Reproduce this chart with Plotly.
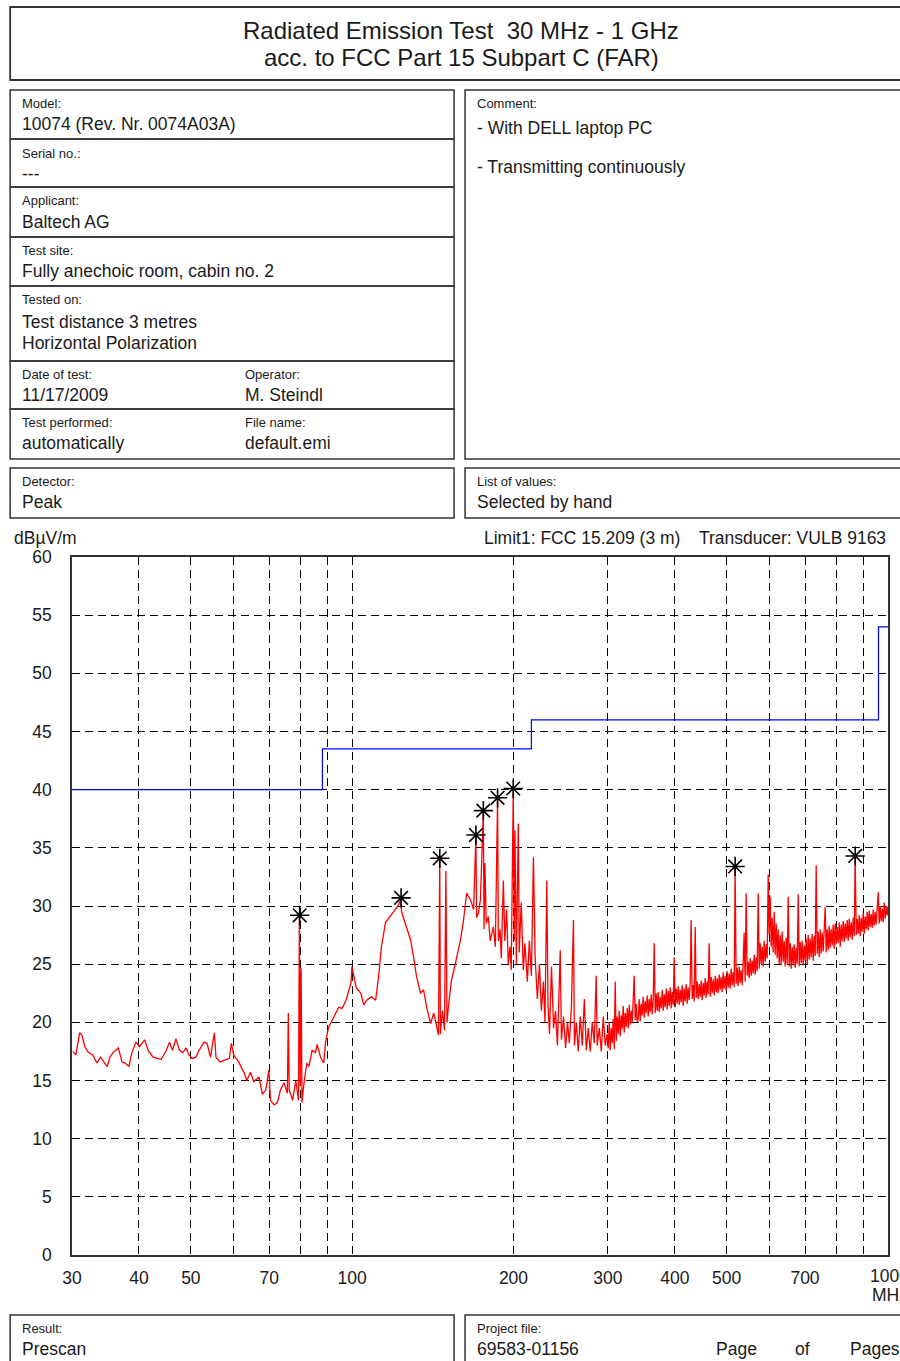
"""Radiated emission prescan sheet (30 MHz - 1 GHz) rebuilt with Plotly."""

import plotly.graph_objects as go

_INK = "#1a1a1a"
_FRAME = "#333333"
_RED = "#ff0000"
_BLUE = "#0000ff"
_FONT = "Liberation Sans, Arial, sans-serif"

FREQ_MHZ = [
    30.1, 30.5, 31.0, 31.3, 31.7, 32.2, 32.8, 33.4, 33.9, 34.4, 34.9, 35.3, 35.8,
    36.6, 37.2, 37.7, 38.3, 38.8, 39.5, 40.1, 41.0, 41.6, 42.5, 43.4, 44.0, 45.0,
    45.6, 46.2, 46.9, 47.6, 48.3, 49.0, 49.6, 50.3, 51.1, 51.8, 52.9, 53.6, 54.4,
    55.3, 55.7, 56.7, 58.0, 59.0, 59.5, 60.1, 61.4, 62.8, 63.6, 64.6, 65.5, 67.0,
    68.0, 69.0, 69.9, 70.4, 71.5, 72.5, 73.5, 74.6, 75.7, 76.0, 76.3, 77.4, 78.5,
    79.4, 79.7, 80.0, 80.3, 80.6, 81.4, 82.3, 83.0, 84.2, 85.4, 86.0, 87.3, 88.5,
    89.2, 90.4, 91.8, 93.1, 94.4, 95.8, 97.4, 99.5, 99.9, 101.7, 103.8, 105.1,
    106.4, 108.7, 110.6, 112.0, 113.4, 115.4, 117.9, 119.5, 122.0, 123.4, 123.6,
    125.7, 128.5, 130.2, 131.9, 134.2, 135.9, 137.7, 140.1, 142.0, 143.8, 144.9,
    145.7, 146.1, 147.4, 148.7, 149.6, 150.3, 151.2, 153.2, 155.9, 159.3, 161.4,
    163.5, 166.4, 168.5, 170.2, 170.7, 172.0, 173.5, 175.7, 176.2, 176.9, 177.9,
    179.5, 181.0, 183.4, 185.0, 186.8, 187.4, 188.8, 189.8, 191.5, 192.7, 194.2,
    195.6, 197.0, 198.1, 199.8, 200.7, 201.3, 202.5, 204.2, 205.0, 206.8, 208.6,
    210.1, 212.3, 214.1, 216.0, 217.9, 219.5, 221.6, 223.6, 225.5, 227.5, 229.0,
    230.8, 232.0, 233.5, 235.5, 237.6, 239.6, 241.6, 244.5, 245.8, 248.0, 250.2,
    252.3, 254.3, 256.6, 258.8, 259.9, 262.0, 264.2, 266.5, 268.8, 271.2, 273.5,
    275.8, 278.2, 280.6, 283.0, 285.4, 286.6, 289.2, 291.7, 294.2, 296.7, 299.2,
    300.5, 301.8, 303.1, 304.4, 305.7, 307.0, 308.4, 309.7, 311.0, 312.4,
    313.7, 315.1, 316.4, 317.8, 319.1, 320.5, 321.9, 323.3, 324.7, 326.1,
    327.5, 328.9, 330.3, 331.8, 333.2, 334.6, 336.0, 337.5, 338.9, 340.4,
    341.8, 343.3, 344.8, 346.2, 347.7, 349.2, 350.7, 352.2, 353.8, 355.3,
    356.9, 358.4, 360.0, 361.5, 363.1, 364.6, 366.2, 367.8, 369.4, 371.0,
    372.5, 374.1, 375.8, 377.4, 379.0, 380.6, 382.3, 383.9, 385.6, 387.2,
    388.9, 390.6, 392.2, 393.9, 395.6, 397.3, 399.0, 400.7, 402.5, 404.2,
    405.9, 407.7, 409.4, 411.2, 412.9, 414.7, 416.5, 418.3, 420.1, 421.9,
    423.7, 425.5, 427.4, 429.2, 431.1, 432.9, 434.8, 436.7, 438.5, 440.4,
    442.4, 444.3, 446.2, 448.1, 450.0, 452.0, 453.9, 455.9, 457.8, 459.8,
    461.8, 463.8, 465.8, 467.8, 469.8, 471.8, 473.9, 475.9, 478.0, 480.0,
    482.0, 484.1, 486.2, 488.3, 490.4, 492.5, 494.6, 496.7, 498.9, 501.0,
    503.2, 505.4, 507.5, 509.7, 511.9, 514.1, 516.3, 518.5, 520.7, 523.0,
    525.2, 527.5, 529.8, 532.0, 534.3, 536.6, 538.9, 541.3, 543.6, 546.0,
    548.4, 550.7, 553.1, 555.5, 557.9, 560.3, 562.7, 565.1, 567.5, 570.0,
    572.5, 574.9, 577.4, 579.9, 582.4, 584.9, 587.4, 590.0, 592.5, 595.0,
    597.6, 600.2, 602.7, 605.3, 607.9, 610.5, 613.2, 615.8, 618.5, 621.1,
    623.8, 626.5, 629.2, 631.9, 634.6, 637.3, 640.1, 642.8, 645.6, 648.4,
    651.3, 654.1, 656.9, 659.7, 662.6, 665.4, 668.3, 671.2, 674.1, 677.0,
    679.9, 682.8, 685.8, 688.7, 691.7, 694.6, 697.6, 700.6, 703.6, 706.7,
    709.7, 712.8, 715.8, 718.9, 722.0, 725.1, 728.2, 731.4, 734.5, 737.7,
    740.8, 744.0, 747.2, 750.4, 753.6, 756.9, 760.1, 763.4, 766.7, 770.0,
    773.3, 776.6, 779.9, 783.3, 786.7, 790.0, 793.4, 796.8, 800.3, 803.7,
    807.4, 810.8, 814.3, 817.8, 821.3, 824.9, 828.4, 832.0, 835.6, 839.2,
    842.8, 846.4, 850.1, 853.7, 857.4, 861.1, 864.8, 868.5, 872.3, 876.0,
    879.8, 883.6, 887.4, 891.2, 895.0, 898.9, 902.7, 906.6, 910.5, 914.4,
    918.4, 922.3, 926.3, 930.3, 934.3, 938.3, 942.3, 946.4, 950.5, 954.6,
    958.8, 962.9, 967.1, 971.2, 975.4, 979.6, 983.8, 988.0, 992.3, 996.6, 1000.0,
]
LEVEL_DBUV = [
    17.5, 17.2, 19.1, 18.9, 17.9, 17.4, 17.2, 16.5, 17.0, 16.6, 16.2, 17.0, 17.4,
    17.8, 16.6, 16.5, 16.2, 17.4, 18.3, 17.9, 18.5, 17.6, 17.0, 16.9, 16.8, 17.6,
    18.3, 17.6, 18.6, 17.6, 17.4, 17.8, 17.2, 16.9, 17.0, 17.6, 18.3, 18.2, 17.0,
    19.1, 17.0, 16.6, 16.8, 16.9, 18.2, 17.2, 16.6, 15.7, 15.0, 15.7, 14.9, 15.3,
    13.8, 14.2, 15.9, 13.3, 12.9, 13.1, 14.2, 14.8, 13.9, 20.8, 14.2, 13.3, 15.0,
    13.3, 29.0, 14.5, 24.7, 13.1, 15.0, 16.5, 16.2, 17.6, 17.4, 18.1, 17.0, 16.5,
    18.3, 19.6, 20.2, 20.8, 21.3, 21.2, 21.9, 23.4, 24.8, 23.0, 22.5, 21.5,
    21.9, 22.2, 21.9, 23.9, 26.5, 28.6, 29.1, 29.5, 30.1, 30.6, 29.5,
    28.5, 27.1, 25.6, 23.9, 22.5, 22.8, 21.3, 19.9, 20.8, 19.6, 18.9,
    34.0, 19.0, 21.0, 19.3, 33.0, 20.0, 21.3, 23.6, 25.1, 27.1, 28.8,
    31.1, 30.5, 29.7, 36.0, 29.0, 29.4, 30.5, 38.1, 28.0, 33.7, 28.5,
    29.1, 27.0, 28.2, 26.5, 39.2, 27.0, 28.0, 25.5, 32.2, 27.0, 29.7,
    25.0, 26.5, 24.5, 40.0, 27.0, 36.5, 25.0, 37.1, 26.0, 30.3, 24.5,
    26.8, 23.5, 27.0, 24.0, 34.2, 25.6, 22.0, 25.0, 21.0, 23.5, 20.0,
    32.2, 21.5, 19.0, 24.8, 19.5, 21.0, 18.0, 26.2, 18.5, 20.5, 17.8,
    20.0, 18.2, 21.5, 28.8, 18.0, 20.0, 17.5, 20.5, 18.0, 22.0, 17.6,
    19.5, 17.5, 20.0, 18.2, 24.0, 18.0, 19.5, 17.5, 20.5, 18.0, 19.0,
    17.8, 20.0, 17.6, 19.5, 18.2, 20.3, 17.7, 23.5, 18.4, 20.5,
    19.0, 21.0, 18.8, 20.6, 19.4, 21.4, 19.1, 20.8, 19.6, 21.2,
    19.5, 21.5, 19.8, 21.0, 20.0, 21.8, 24.0, 20.2, 21.6, 20.0,
    20.3, 22.0, 20.1, 21.6, 20.6, 22.2, 20.4, 21.8, 20.8, 22.3,
    20.5, 22.0, 20.9, 22.4, 20.7, 21.9, 26.8, 20.8, 22.5, 21.0,
    22.6, 20.9, 22.2, 21.2, 22.8, 21.0, 22.4, 21.3, 22.9, 21.1,
    22.7, 21.4, 23.0, 21.2, 22.6, 21.5, 25.6, 21.3, 22.9, 21.6,
    23.1, 21.5, 22.8, 21.7, 23.2, 21.4, 22.9, 21.8, 23.3, 21.6,
    23.0, 21.9, 23.4, 28.8, 22.0, 23.2, 21.8, 28.2, 22.1, 23.5,
    22.0, 23.3, 22.2, 23.6, 21.9, 23.4, 22.3, 23.8, 22.1, 23.5,
    22.4, 26.8, 22.2, 23.9, 22.5, 23.7, 22.3, 24.0, 22.6, 23.8,
    22.5, 24.1, 22.8, 23.9, 22.6, 24.3, 22.9, 24.0, 22.7, 24.4,
    23.0, 24.2, 22.9, 24.6, 23.2, 24.3, 23.0, 33.3, 23.3, 24.7,
    23.1, 24.8, 23.4, 24.5, 23.2, 25.0, 27.7, 23.5, 31.1, 24.0,
    25.2, 23.8, 25.5, 24.0, 25.3, 24.2, 25.8, 24.1, 25.6, 24.4,
    31.1, 24.6, 26.8, 25.0, 26.5, 24.8, 27.0, 25.2, 26.7, 25.5,
    32.7, 27.5, 30.8, 26.5, 29.0, 26.0, 29.5, 25.8, 28.5, 25.5,
    28.0, 25.0, 27.5, 24.9, 27.8, 25.2, 27.0, 24.8, 27.3, 25.0,
    30.8, 24.8, 26.8, 24.6, 26.5, 24.9, 26.7, 24.7, 26.4, 25.0,
    31.0, 24.8, 26.9, 25.1, 27.0, 24.9, 26.6, 25.3, 27.2, 25.0,
    27.5, 25.4, 27.2, 25.6, 27.6, 25.3, 27.4, 25.7, 33.5, 25.9,
    27.8, 25.6, 28.0, 25.9, 27.7, 26.1, 28.1, 29.9, 26.0, 28.0,
    26.2, 28.3, 26.4, 28.0, 26.6, 28.4, 26.3, 28.5, 26.7, 28.2,
    26.8, 28.6, 26.5, 28.4, 27.0, 28.7, 26.9, 28.5, 27.2, 28.8,
    27.0, 28.9, 27.3, 28.6, 27.1, 29.0, 27.4, 34.2, 27.5, 28.9,
    27.6, 29.2, 27.4, 29.0, 27.8, 29.4, 27.6, 29.1, 28.0, 29.5,
    27.9, 29.6, 28.2, 29.3, 28.1, 29.7, 28.3, 29.5, 28.4, 29.8,
    31.2, 28.5, 30.0, 28.7, 29.8, 28.6, 30.3, 28.9, 30.0, 29.2, 30.0,
]

# FCC 15.209 (3 m) limit steps
LIMIT_FREQ = [30, 88, 216, 960, 1000]
LIMIT_LEVEL = [40.0, 43.5, 46.0, 54.0, 54.0]

# hand-selected peaks (asterisks)
PEAK_FREQ = [79.8, 123.4, 145.7, 170.2, 175.7, 186.8, 199.8, 518.5, 868.5]
PEAK_LEVEL = [29.2, 30.7, 34.1, 36.1, 38.2, 39.3, 40.1, 33.4, 34.3]

X_TICKS = [30, 40, 50, 60, 70, 80, 90, 100, 200, 300, 400, 500, 600, 700, 800, 900, 1000]
X_TICK_TEXT = ["30", "40", "50", "", "70", "", "", "100", "200", "300", "400",
               "500", "", "700", "", "", ""]
Y_TICKS = [0, 5, 10, 15, 20, 25, 30, 35, 40, 45, 50, 55, 60]

# page geometry in pixels; plot area spans x 72..890, y 557..1255
_W, _H = 900, 1361
_L, _R, _T, _B = 72, 890, 557, 1255


def _px(x: float) -> float:
    return (x - _L) / (_R - _L)


def _py(y: float) -> float:
    return (_B - y) / (_B - _T)


def _box(x0, y0, x1, y1, width=1.5) -> dict:
    return {
        "type": "rect", "xref": "paper", "yref": "paper",
        "x0": _px(x0), "x1": _px(x1), "y0": _py(y1), "y1": _py(y0),
        "line": {"color": _FRAME, "width": width}, "fillcolor": "rgba(0,0,0,0)",
        "layer": "above",
    }


def _text(x, y, s, size=17.5, anchor="left") -> dict:
    return {
        "xref": "paper", "yref": "paper", "x": _px(x), "y": _py(y),
        "text": s, "showarrow": False, "xanchor": anchor, "yanchor": "middle",
        "font": {"family": _FONT, "size": size, "color": _INK},
    }


fig = go.Figure()
fig.add_trace(
    go.Scatter(
        x=FREQ_MHZ, y=LEVEL_DBUV, mode="lines",
        line={"color": _RED, "width": 1.3}, name="Peak",
    )
)
fig.add_trace(
    go.Scatter(
        x=LIMIT_FREQ, y=LIMIT_LEVEL, mode="lines", line_shape="hv",
        line={"color": _BLUE, "width": 1.2}, name="Limit1",
    )
)
fig.add_trace(
    go.Scatter(
        x=PEAK_FREQ, y=PEAK_LEVEL, mode="markers",
        marker={"symbol": "asterisk-open", "size": 16, "color": "#000000",
                "line": {"color": "#000000", "width": 1.6}},
        name="Peaks",
    )
)

shapes = [
    _box(10, 7, 905, 80, 1.8),
    _box(10, 90, 455, 139), _box(10, 139, 455, 187), _box(10, 187, 455, 237),
    _box(10, 237, 455, 286), _box(10, 286, 455, 361), _box(10, 361, 455, 409),
    _box(10, 409, 455, 459),
    _box(466, 90, 905, 459),
    _box(10, 468, 455, 518), _box(466, 468, 905, 518),
    _box(10, 1315, 455, 1370), _box(466, 1315, 905, 1370),
]

_SMALL = 13
annotations = [
    _text(462, 30, "Radiated Emission Test  30 MHz - 1 GHz", 24, "center"),
    _text(462, 57, "acc. to FCC Part 15 Subpart C (FAR)", 24, "center"),
    _text(20, 103, "Model:", _SMALL), _text(20, 124, "10074 (Rev. Nr. 0074A03A)"),
    _text(20, 153, "Serial no.:", _SMALL), _text(20, 174, "---"),
    _text(20, 201, "Applicant:", _SMALL), _text(20, 222, "Baltech AG"),
    _text(20, 250, "Test site:", _SMALL), _text(20, 271, "Fully anechoic room, cabin no. 2"),
    _text(20, 300, "Tested on:", _SMALL), _text(20, 322, "Test distance 3 metres"),
    _text(20, 343, "Horizontal Polarization"),
    _text(20, 374, "Date of test:", _SMALL), _text(20, 395, "11/17/2009"),
    _text(243, 374, "Operator:", _SMALL), _text(243, 395, "M. Steindl"),
    _text(20, 422, "Test performed:", _SMALL), _text(20, 443, "automatically"),
    _text(243, 422, "File name:", _SMALL), _text(243, 443, "default.emi"),
    _text(476, 103, "Comment:", _SMALL), _text(476, 128, "- With DELL laptop PC"),
    _text(476, 167, "- Transmitting continuously"),
    _text(20, 481, "Detector:", _SMALL), _text(20, 502, "Peak"),
    _text(476, 481, "List of values:", _SMALL), _text(476, 502, "Selected by hand"),
    _text(12, 538, "dBµV/m"),
    _text(483, 538, "Limit1: FCC 15.209 (3 m)"),
    _text(890, 538, "Transducer: VULB 9163", 17.5, "right"),
    # last x tick label runs off the page edge, as on the printed sheet
    _text(892, 1276, "1000", 17.5, "center"),
    _text(892, 1295, "MHz", 17.5, "center"),
    _text(20, 1328, "Result:", _SMALL), _text(20, 1349, "Prescan"),
    _text(476, 1328, "Project file:", _SMALL), _text(476, 1349, "69583-01156"),
    _text(716, 1349, "Page"), _text(795, 1349, "of"), _text(850, 1349, "Pages"),
]

_AXIS = {
    "showgrid": True, "gridcolor": "#000000", "gridwidth": 1, "griddash": "8px,5px",
    "showline": True, "mirror": True, "linecolor": _FRAME, "linewidth": 1.5,
    "ticks": "", "zeroline": False,
    "tickfont": {"family": _FONT, "size": 17.5, "color": _INK},
}

fig.update_layout(
    width=_W, height=_H,
    margin={"l": _L, "r": _W - _R, "t": _T, "b": _H - _B},
    plot_bgcolor="#ffffff", paper_bgcolor="#ffffff",
    showlegend=False,
    xaxis={**_AXIS, "type": "log", "range": [1.4771213, 3.0],
           "tickvals": X_TICKS, "ticktext": X_TICK_TEXT, "ticklabelstandoff": 6},
    yaxis={**_AXIS, "range": [0, 60], "tickvals": Y_TICKS, "ticklabelstandoff": 15},
    shapes=shapes,
    annotations=annotations,
)

# the sheet fills the whole window, so drop the browser's default body margin
fig.write_html(
    "out.html",
    config={"displayModeBar": False},
    post_script="document.body.style.margin='0';document.body.style.overflow='hidden';",
)
